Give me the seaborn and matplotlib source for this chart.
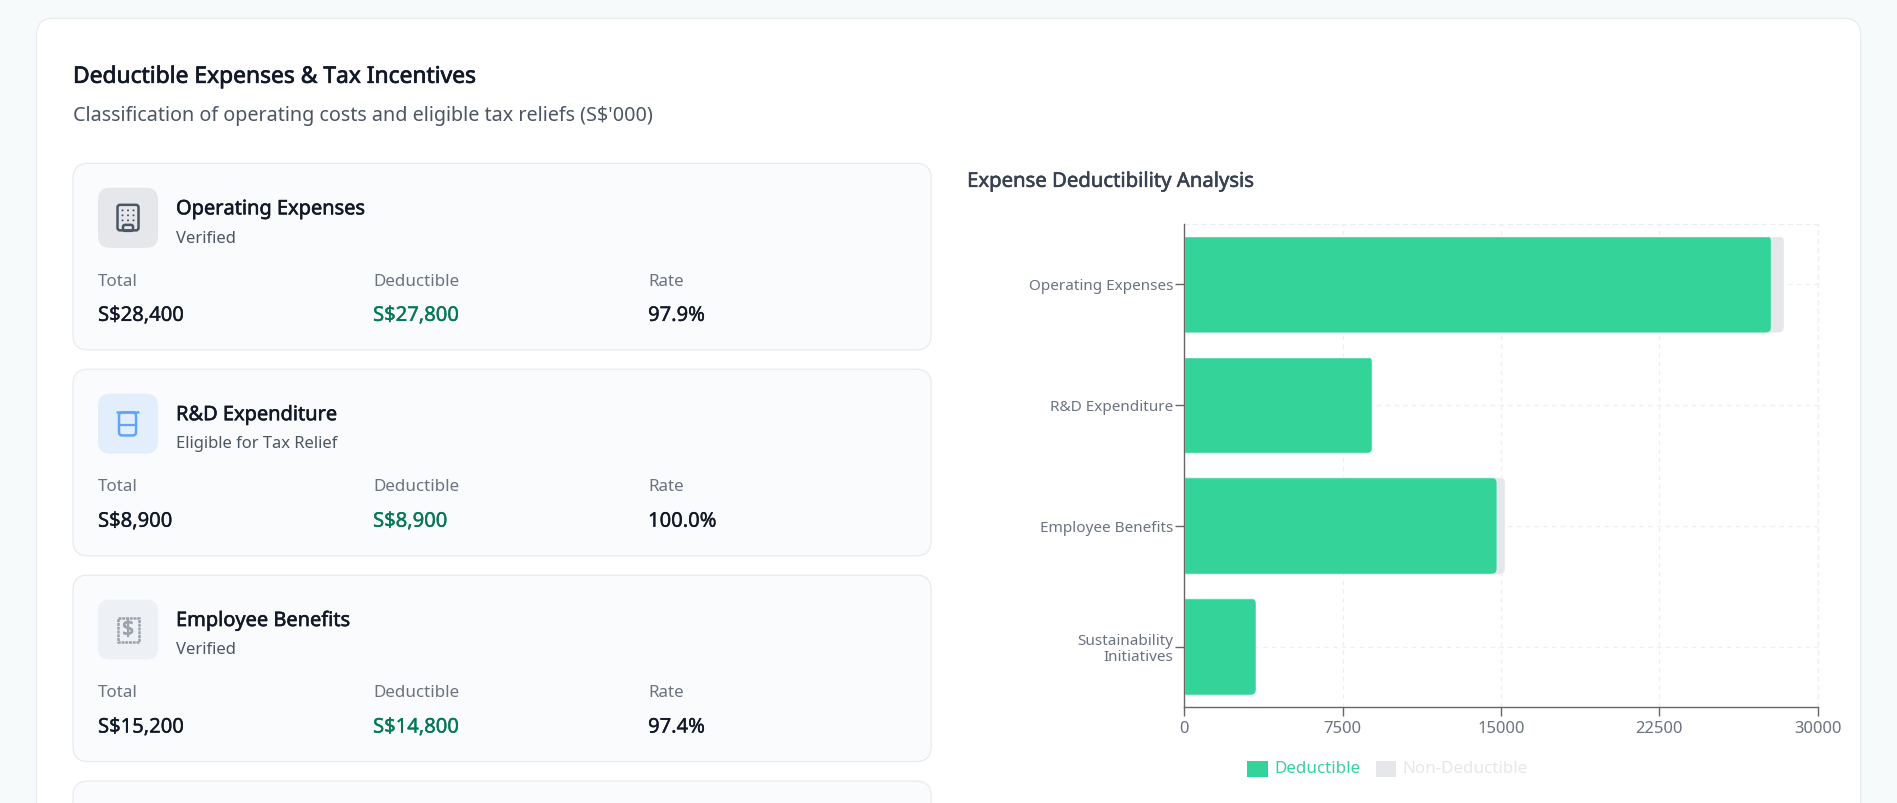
import matplotlib
matplotlib.use("Agg")
import matplotlib.pyplot as plt
import matplotlib.patheffects as pe
from matplotlib.patches import FancyBboxPatch, Rectangle, Circle
from matplotlib.transforms import IdentityTransform
import pandas as pd
import seaborn as sns

categories = ["Operating Expenses", "R&D Expenditure", "Employee Benefits", "Sustainability\nInitiatives"]
deductible = [27800, 8900, 14800, 3400]
non_deductible = [600, 0, 400, 0]
x_ticks = [0, 7500, 15000, 22500, 30000]

card_names = ["Operating Expenses", "R&D Expenditure", "Employee Benefits"]
card_status = ["Verified", "Eligible for Tax Relief", "Verified"]
card_total = ["S$28,400", "S$8,900", "S$15,200"]
card_deductible = ["S$27,800", "S$8,900", "S$14,800"]
card_rate = ["97.9%", "100.0%", "97.4%"]
icon_bg = ["#E5E7EB", "#E3EEFC", "#EDF0F4"]
icon_fg = ["#4B5563", "#60A5FA", "#9CA3AF"]

GREEN = "#34D399"
GREY = "#E5E7EB"
AXIS = "#666666"
FONT = "Noto Sans"
W, H = 1897, 803

sns.set_theme(style="white")
plt.rcParams["font.family"] = [FONT, "DejaVu Sans"]

fig = plt.figure(figsize=((W + 0.2) / 100, (H + 0.2) / 100), dpi=100, facecolor="#F7FAFA")

# page layer in pixel coordinates
bg = fig.add_axes([0, 0, 1, 1], zorder=0)
bg.set_xlim(0, W)
bg.set_ylim(H, 0)
bg.axis("off")


def rbox(x0, y0, x1, y1, r, fc, ec="none", lw=1.0):
    bg.add_patch(FancyBboxPatch((x0 + r, y0 + r), x1 - x0 - 2 * r, y1 - y0 - 2 * r,
                                boxstyle=f"round,pad={r},rounding_size={r}",
                                fc=fc, ec=ec, lw=lw))


def px(size):
    return size * 0.72


def label(x, y, s, size, color, stroke=0.0):
    t = bg.text(x, y, s, fontsize=px(size), color=color, ha="left", va="center",
                fontfamily=[FONT, "DejaVu Sans"])
    if stroke:
        t.set_path_effects([pe.withStroke(linewidth=stroke, foreground=color)])


rbox(36.5, 18.5, 1860.5, 900, 17, "white", "#E8ECEF", 0.9)
label(73, 77, "Deductible Expenses & Tax Incentives", 22.8, "#111827", 0.5)
label(73, 116, "Classification of operating costs and eligible tax reliefs (S$'000)", 19.75, "#4B5563")
label(967, 182, "Expense Deductibility Analysis", 20.3, "#374151", 0.4)

# fourth card is cut by the bottom edge
rbox(73, 781, 931, 900, 15, "#FAFBFC", "#E8EBEF", 0.9)


def draw_icon(i, dy):
    fg = icon_fg[i]
    if i == 0:
        rbox(117.5, 205 + dy, 138.5, 230.5 + dy, 2.5, "none", fg, 1.8)
        for cx in (122.5, 128, 133.5):
            for cy in (210.5, 215.5, 220.5):
                bg.add_patch(Circle((cx, cy + dy), 1.0, fc=fg, ec="none"))
        rbox(123, 225 + dy, 133, 231 + dy, 2, "none", fg, 1.8)
    elif i == 1:
        bg.plot([117, 138], [412.5, 412.5], color=fg, lw=1.8, solid_capstyle="round")
        rbox(119, 412.5, 136, 435.5, 3, "none", fg, 1.8)
        bg.plot([119, 136], [425, 425], color=fg, lw=1.6)
    else:
        bg.add_patch(Rectangle((117.5, 618), 21, 24.5, fc="none", ec=fg, lw=1.8, ls=(0, (1.2, 0.3))))
        bg.text(128, 630, "$", fontsize=px(21), color=fg, ha="center", va="center",
                path_effects=[pe.withStroke(linewidth=0.7, foreground=fg)])


for i, name in enumerate(card_names):
    dy = i * 205.8
    rbox(73, 163.5 + dy, 931, 350 + dy, 15, "#FAFBFC", "#E8EBEF", 0.9)
    rbox(98, 188 + dy, 158, 248 + dy, 12, icon_bg[i])
    draw_icon(i, dy)
    label(176, 209.5 + dy, name, 20, "#111827", 0.4)
    label(176, 238.5 + dy, card_status[i], 16.6, "#4B5563")
    label(98, 281.5 + dy, "Total", 17, "#6B7280")
    label(373, 281.5 + dy, "Deductible", 17, "#6B7280")
    label(648, 281.5 + dy, "Rate", 17, "#6B7280")
    label(98, 316 + dy, card_total[i], 20.2, "#111827", 0.25)
    label(373, 316 + dy, card_deductible[i], 20.2, "#047857", 0.25)
    label(648, 316 + dy, card_rate[i], 20.2, "#111827", 0.25)

# chart
ax = fig.add_axes([1184 / W, (H - 707) / H, 633.5 / W, 483 / H], zorder=2)
ax.set_facecolor("none")
df = pd.DataFrame({"category": categories, "deductible": deductible, "non_deductible": non_deductible})
df["total"] = df["deductible"] + df["non_deductible"]

sns.barplot(data=df, y="category", x="total", color=GREY, saturation=1, width=0.8, ax=ax, orient="h", zorder=2)
sns.barplot(data=df, y="category", x="deductible", color=GREEN, saturation=1, width=0.8, ax=ax, orient="h", zorder=3)

ax.set_xlim(0, 30000)
ax.set_ylim(3.5, -0.5)
ax.set_xticks(x_ticks)
ax.set_xticklabels([str(v) for v in x_ticks])
ax.set_xlabel("")
ax.set_ylabel("")
ax.set_axisbelow(True)
ax.grid(True, color="#EDEEF1", lw=0.9, ls=(0, (3.5, 3.5)))
for side in ("left", "bottom"):
    ax.spines[side].set_color(AXIS)
    ax.spines[side].set_linewidth(1.0)
    ax.spines[side].set_zorder(5)
for side in ("top", "right"):
    ax.spines[side].set_color("#EDEEF1")
    ax.spines[side].set_linewidth(0.9)
    ax.spines[side].set_linestyle((0, (3.5, 3.5)))
ax.tick_params(axis="both", length=6.5, width=1.0, color=AXIS, labelcolor="#6B7280", bottom=True, left=True)
ax.tick_params(axis="y", pad=1, labelsize=px(15.3))
ax.tick_params(axis="x", pad=3.5, labelsize=px(16.6))
for t in ax.get_yticklabels():
    t.set_multialignment("right")
    t.set_linespacing(1.1)

# rounded bar ends (radius in pixels), left side hidden beyond the axis
fig.canvas.draw()
for bar in list(ax.patches):
    if bar.get_width() <= 0:
        continue
    e = bar.get_window_extent()
    r = 6
    clip = FancyBboxPatch((e.x0 - 12 + r, e.y0 + r), e.width + 12 - 2 * r, e.height - 2 * r,
                          boxstyle=f"round,pad={r},rounding_size={r}", transform=IdentityTransform())
    bar.set_clip_path(clip)

# legend row
bg.add_patch(Rectangle((1247, 761), 21, 16, fc=GREEN, ec="none"))
label(1274, 769, "Deductible", 17, GREEN)
bg.add_patch(Rectangle((1376, 761), 20, 16, fc=GREY, ec="none"))
label(1402, 769, "Non-Deductible", 17, GREY)

fig.savefig("out.png", dpi=100, facecolor=fig.get_facecolor())
